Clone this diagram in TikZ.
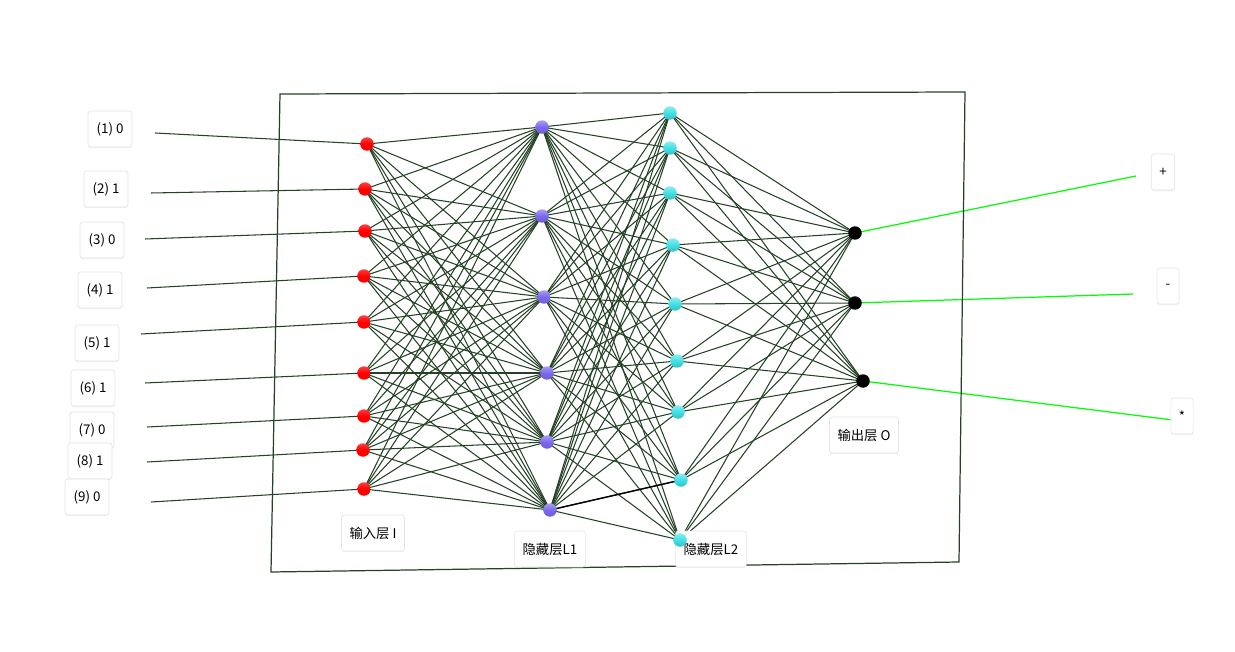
\documentclass[tikz,border=0pt]{standalone}
\usepackage{fontspec}
\newfontfamily\cjk{Noto Sans CJK SC}
\usetikzlibrary{shadings,shadows}
\pgfdeclarelayer{bg}
\pgfsetlayers{bg,main}
\definecolor{xian}{RGB}{38,66,38}
\definecolor{zise}{RGB}{123,104,238}
\definecolor{qing}{RGB}{64,224,230}
\definecolor{lvse}{RGB}{0,255,0}
\begin{document}
\begin{tikzpicture}[x=0.02cm,y=-0.02cm]
	\tikzset{
		every node/.style={font=\cjk\fontsize{7.6}{9}\selectfont},
		% nut
		nut/.style={circle,inner sep=0pt,minimum size=0.27cm},
		shuru/.style={nut,top color=red!75!white,bottom color=red,middle color=red},
		yincang1/.style={nut,top color=zise!65!white,bottom color=zise!90!black,middle color=zise},
		yincang2/.style={nut,top color=qing!60!white,bottom color=qing!85!black,middle color=qing},
		shuchu/.style={nut,fill=black},
		% bieu qian
		biaoqian/.style={draw=black!10,fill=white,rounded corners=1.5pt,minimum height=0.72cm,inner xsep=0.16cm,
			drop shadow={opacity=0.12,shadow xshift=0pt,shadow yshift=-0.6pt}},
		lianxian/.style={draw=xian,line width=0.6pt},
	}
	\useasboundingbox (0,0) rectangle (1235,652);
	%
	\draw[xian,line width=0.7pt] (280,94)--(965,92)--(959,562)--(271,572)--cycle;
	%
	\foreach \x/\y/\t [count=\i] in {110/129/(1) 0,106/189/(2) 1,102/240/(3) 0,100/290/(4) 1,97/343/(5) 1,93/388/(6) 1,92/430/(7) 0,90/461/(8) 1,87/497/(9) 0}
		\node[biaoqian,minimum width=0.88cm] (b\i) at (\x,\y) {\t};
	\node[biaoqian] (bo1) at (1163,172) {+};
	\node[biaoqian,minimum width=0.44cm] (bo2) at (1168,286) {-};
	\node[biaoqian,minimum width=0.44cm] (bo3) at (1182,416) {*};
	\node[biaoqian] (ci) at (373,533) {输入层 I};
	\node[biaoqian] (ch1) at (550,549) {隐藏层L1};
	\node[biaoqian] (ch2) at (711,549) {隐藏层L2};
	\node[biaoqian] (co) at (864,435) {输出层 O};
	%
	\foreach \x/\y [count=\i] in {367/144,365/189,365/231,364/276,364/322,364/373,364/416,363/450,364/489}
		\node[shuru] (i\i) at (\x,\y) {};
	\foreach \x/\y [count=\i] in {542/127,542/216,544/297,547/373,547/442,550/510}
		\node[yincang1] (h\i) at (\x,\y) {};
	\foreach \x/\y [count=\i] in {670/113,670/148,670/193,673/245,675/304,677/361,678/412,681/480,680/540}
		\node[yincang2] (g\i) at (\x,\y) {};
	\foreach \x/\y [count=\i] in {855/233,855/303,863/381}
		\node[shuchu] (o\i) at (\x,\y) {};
	%
	\foreach \x/\y [count=\i] in {155/133,151/193,145/239,147/288,141/334,145/383,147/427,147/462,151/502}
		\coordinate (ei\i) at (\x,\y);
	\coordinate (eo1) at (1136,176);
	\coordinate (eo2) at (1133,294);
	\coordinate (eo3) at (1173,420);
	%
	\begin{pgfonlayer}{bg}
		\foreach \i in {1,...,9}{
			\draw[lianxian] (ei\i)--(i\i.center);
			\foreach \j in {1,...,6}
				\draw[lianxian] (i\i.center)--(h\j.center);
		}
		\foreach \j in {1,...,6}
			\foreach \k in {1,...,9}
				\draw[lianxian] (h\j.center)--(g\k.center);
		\foreach \k in {1,...,9}
			\foreach \m in {1,...,3}
				\draw[lianxian] (g\k.center)--(o\m.center);
		\draw[black,line width=0.8pt] (h6.center)--(g8.center);
		\foreach \m in {1,2,3}
			\draw[lvse,line width=0.7pt] (o\m.center)--(eo\m);
	\end{pgfonlayer}
\end{tikzpicture}
\end{document}
